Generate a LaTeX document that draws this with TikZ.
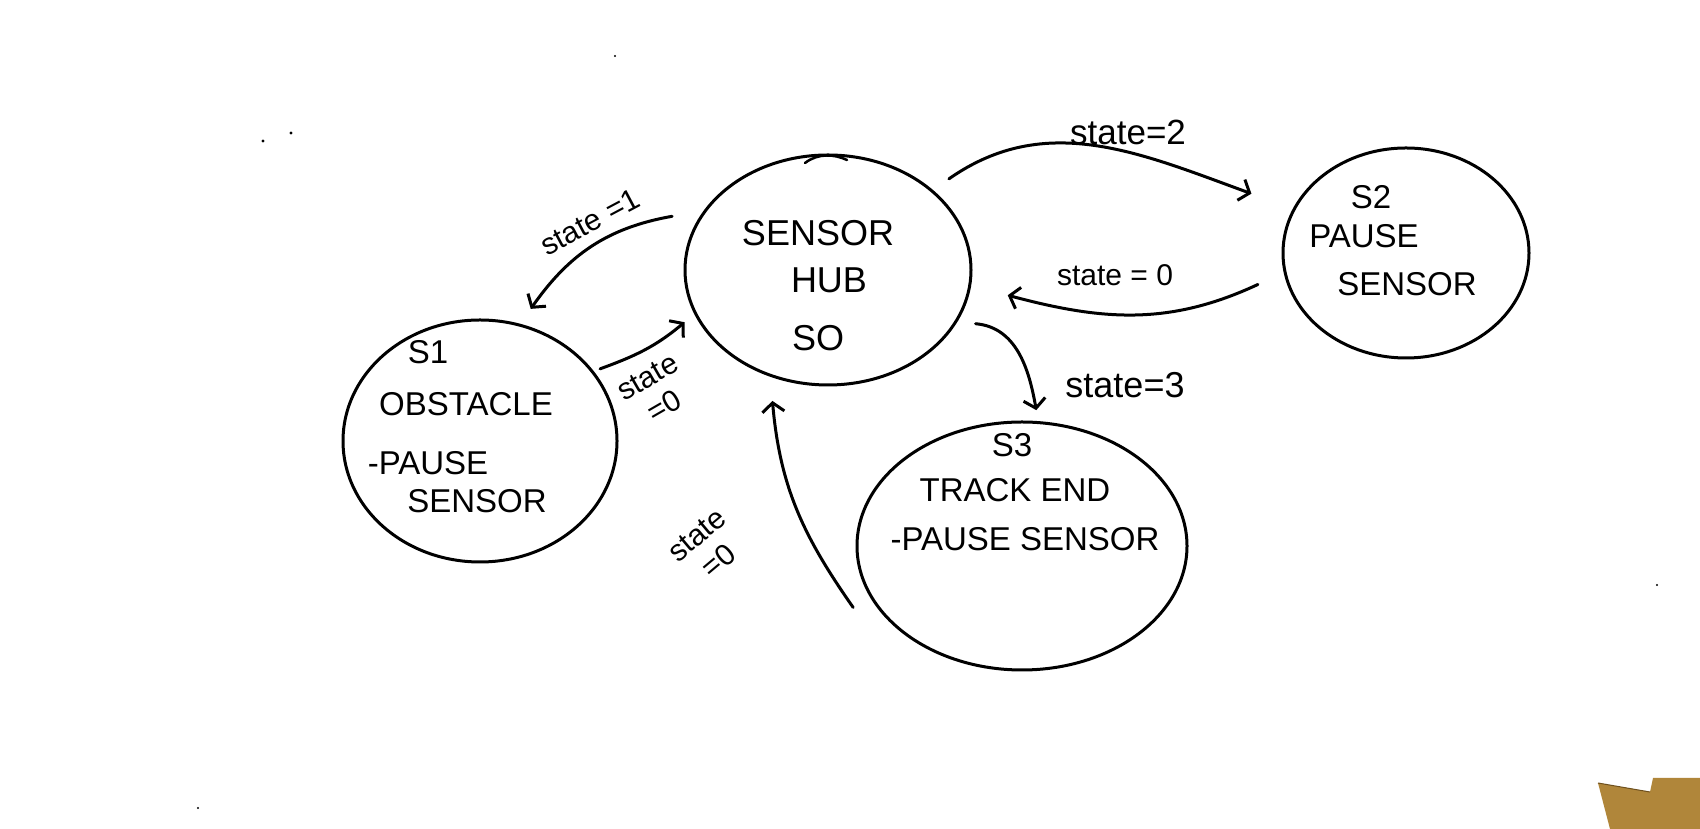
\documentclass[tikz,border=0pt]{standalone}
\usepackage{fontspec}
\setmainfont{Liberation Sans}
\usetikzlibrary{shapes.geometric,arrows.meta,calc}
\begin{document}
\begin{tikzpicture}[x=1pt,y=1pt,
  statebox/.style={ellipse, draw, line width=3pt, inner sep=0pt, outer sep=0pt},
  txt/.style={inner sep=0pt, font=\fontsize{33}{38}\selectfont},
  bigtxt/.style={inner sep=0pt, font=\fontsize{36}{40}\selectfont},
  elbl/.style={inner sep=0pt, align=center, font=\fontsize{30}{34}\selectfont},
  arr/.style={line width=3pt, line cap=round, -{Straight Barb[length=9pt,width=22pt]}}]
\useasboundingbox (0,0) rectangle (1700,829);
\fill[white] (0,0) rectangle (1700,829);

% states
\node[statebox, minimum width=286pt, minimum height=230pt] (hub) at (828,559) {};
\node[statebox, minimum width=274pt, minimum height=242pt] (s1) at (480,388) {};
\node[statebox, minimum width=246pt, minimum height=210pt] (s2) at (1406,576) {};
\node[statebox, minimum width=330pt, minimum height=248pt] (s3) at (1022,283) {};

% state texts
\node[bigtxt] (hubA) at (818,596) {SENSOR};
\node[bigtxt] (hubB) at (829,549) {HUB};
\node[bigtxt] (hubC) at (818,491) {SO};

\node[txt] (s1A) at (428,477) {S1};
\node[txt] (s1B) at (466,425) {OBSTACLE};
\node[txt] (s1C) at (428,366) {-PAUSE};
\node[txt] (s1D) at (477,328) {SENSOR};

\node[txt] (s2A) at (1371,632) {S2};
\node[txt] (s2B) at (1364,593) {PAUSE};
\node[txt] (s2C) at (1407,545) {SENSOR};

\node[txt] (s3A) at (1012,384) {S3};
\node[txt] (s3B) at (1015,339) {TRACK END};
\node[txt] (s3C) at (1025,290) {-PAUSE SENSOR};

% transitions
\draw[arr] ($(hub.center)!1.159!(hub.37)$) to[out=35,in=160] ($(s2.center)!1.378!(s2.159)$);
\draw[arr] ($(s2.center)!1.241!(s2.192)$) to[out=205,in=-15] ($(hub.center)!1.276!(hub.352)$);
\draw[arr] ($(hub.center)!1.133!(hub.340)$) to[out=-5,in=100] ($(s3.center)!1.099!(s3.84.5)$);
\draw[arr] ($(hub.center)!1.186!(hub.161)$) to[out=190,in=55] ($(s1.center)!1.153!(s1.69)$);
\draw[arr] ($(s1.center)!1.06!(s1.31)$) to[out=20,in=220] ($(hub.center)!1.101!(hub.200)$);
\draw[arr] ($(s3.center)!1.137!(s3.200)$) to[out=125,in=-85] ($(hub.center)!1.203!(hub.247)$);

% transition labels
\node[elbl, font=\fontsize{35}{38}\selectfont] (l2) at (1128,697) {state=2};
\node[elbl] (l0b) at (1115,554) {state = 0};
\node[elbl, font=\fontsize{36}{38}\selectfont] (l3) at (1125,444) {state=3};
\node[elbl, rotate=28] (l1) at (590,607) {state =1};
\node[elbl, rotate=30] (l0a) at (656,437) {state\\=0};
\node[elbl, rotate=40] (l0c) at (708,281) {state\\=0};

% pen mark on top of hub
\draw[line width=2.5pt, line cap=round] (805,666) .. controls (818,676) and (834,675) .. (847,669);

% specks
\fill (263,688) circle (1.6pt);
\fill (291,696) circle (1.6pt);
\fill (615,773) circle (1.2pt);
\fill (198,21) circle (1.2pt);
\fill (1657,244) circle (1.2pt);

% object in the corner
\fill[color={rgb,255:red,176;green,134;blue,58}] (1598,46) -- (1650,37) -- (1653,51) -- (1700,51) -- (1700,0) -- (1610,0) -- cycle;
\draw[color={rgb,255:red,110;green,80;blue,30}, line width=1pt] (1598,46) -- (1650,37);
\end{tikzpicture}
\end{document}
